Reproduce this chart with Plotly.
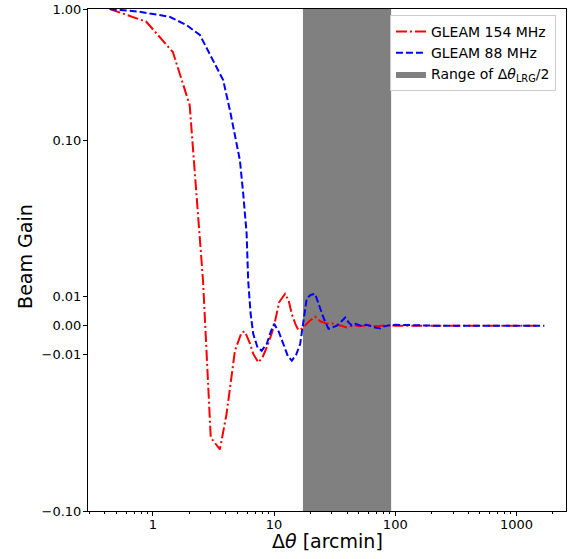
import math
import plotly.graph_objects as go

# ---- data ----
red_x = [0.44, 0.88, 1.46, 2.01, 2.59, 3.0, 3.57, 4.05, 4.75, 5.39, 5.74, 6.3, 6.73, 7.4,
         8.0, 8.69, 9.4, 10.0, 11.0, 12.3, 13.2, 14.0, 15.0, 15.85, 17.0, 19.5, 21.8, 24.0,
         27.2, 30.0, 34.0, 39.9, 45.0, 50.0, 60.0, 70.0, 85.0, 100.0, 200.0, 500.0, 1000.0, 1550.0]
red_y = [1.0, 0.80, 0.47, 0.185, 0.0154, -0.0384, -0.0424, -0.0303, -0.0086, -0.0023, -0.0020,
         -0.0060, -0.0097, -0.0126, -0.0110, -0.0075, -0.0035, 0.0, 0.0080, 0.0109, 0.0085,
         0.0040, 0.0005, -0.0015, -0.0010, 0.0015, 0.0031, 0.0015, 0.0007, 0.0008, 0.0002,
         -0.0006, 0.0002, -0.0002, 0.0001, -0.0002, 0.0001, 0.0, 0.0, 0.0, 0.0, 0.0]

blue_x = [0.44, 0.776, 1.37, 1.89, 2.44, 3.14, 3.80, 4.32, 4.75, 5.22, 5.56, 5.93, 6.11, 6.4,
          6.73, 7.3, 7.89, 8.68, 9.4, 10.0, 10.9, 11.9, 13.0, 14.0, 15.2, 16.4, 16.9, 17.7,
          18.6, 20.0, 21.8, 23.5, 25.5, 28.1, 30.5, 33.0, 36.0, 38.6, 41.0, 43.9, 47.0, 52.0,
          58.0, 66.0, 75.3, 80.0, 86.7, 100.0, 200.0, 500.0, 1000.0, 1700.0]
blue_y = [1.0, 0.953, 0.873, 0.755, 0.634, 0.408, 0.287, 0.169, 0.110, 0.0703, 0.0452, 0.0315,
          0.0154, 0.004, -0.0029, -0.0075, -0.0086, -0.0063, -0.0020, 0.0006, -0.0020, -0.0063,
          -0.0105, -0.0120, -0.0100, -0.0063, -0.0029, 0.0030, 0.0094, 0.0105, 0.0109, 0.0070,
          0.0028, -0.0011, -0.0005, 0.0, 0.0015, 0.0028, 0.0012, 0.0, 0.0006, 0.0, 0.0003,
          -0.0005, -0.0010, -0.0003, 0.0, 0.0003, 0.0, 0.0, 0.0, 0.0]

shade_range = [17.3, 92.4]          # range of Δθ_LRG/2 in arcmin
y_tick_vals = [1.0, 0.1, 0.01, 0.0, -0.01, -0.1]
y_tick_text = ["1.00", "0.10", "0.01", "0.00", "\u22120.01", "\u22120.10"]
x_tick_vals = [1, 10, 100, 1000]
x_tick_text = ["1", "10", "100", "1000"]
y_limits = [-0.1, 1.0]
x_limits = [0.291, 2565.0]

# ---- symmetric log transform (matplotlib 'symlog', linthresh=0.05, linscale=1) ----
LINTHRESH = 0.05
LINSCALE_ADJ = 1.0 / (1.0 - 1.0 / 10.0)


def symlog(v):
    a = abs(v)
    if a <= LINTHRESH:
        return v / LINTHRESH * LINSCALE_ADJ
    return math.copysign(LINSCALE_ADJ + math.log10(a / LINTHRESH), v)


ymin_t = symlog(y_limits[0])
ymax_t = symlog(y_limits[1])

FONT = "DejaVu Sans"

fig = go.Figure()

fig.add_trace(go.Scatter(
    x=[shade_range[0], shade_range[0], shade_range[1], shade_range[1], shade_range[0]],
    y=[ymin_t, ymax_t, ymax_t, ymin_t, ymin_t],
    fill="toself", fillcolor="#808080", mode="lines", line=dict(width=0, color="#808080"),
    name="Range of \u0394<i>\u03b8</i><sub>LRG</sub>/2", legendrank=3, hoverinfo="skip",
))
fig.add_trace(go.Scatter(
    x=red_x, y=[symlog(v) for v in red_y], mode="lines",
    line=dict(color="#ff0000", width=2, dash="11px,3px,2px,3px"),
    name="GLEAM 154 MHz", legendrank=1,
))
fig.add_trace(go.Scatter(
    x=blue_x, y=[symlog(v) for v in blue_y], mode="lines",
    line=dict(color="#0000ff", width=2, dash="7px,3px"),
    name="GLEAM 88 MHz", legendrank=2,
))

minor_x = [m * 10 ** k for k in range(-1, 4) for m in range(2, 10)
           if x_limits[0] <= m * 10 ** k <= x_limits[1]]

fig.update_layout(
    width=573, height=559,
    margin=dict(l=88, r=7, t=9, b=48, autoexpand=False),
    plot_bgcolor="white", paper_bgcolor="white",
    font=dict(family=FONT, size=13, color="black"),
    showlegend=True,
    legend=dict(
        x=0.979, y=0.988, xanchor="right", yanchor="top",
        bgcolor="rgba(255,255,255,0.8)", bordercolor="#cccccc", borderwidth=1,
        font=dict(family=FONT, size=14, color="black"),
        traceorder="normal",
    ),
    xaxis=dict(
        type="log", range=[math.log10(x_limits[0]), math.log10(x_limits[1])],
        tickmode="array", tickvals=x_tick_vals, ticktext=x_tick_text,
        ticks="outside", ticklen=4, tickwidth=1, tickcolor="black",
        showline=True, linecolor="black", linewidth=1, mirror=True,
        showgrid=False, zeroline=False, automargin=False, ticklabelstandoff=-3,
        minor=dict(tickmode="array", tickvals=minor_x, ticks="outside", ticklen=2,
                   tickwidth=1, tickcolor="black", showgrid=False),
        tickfont=dict(family=FONT, size=13),
    ),
    yaxis=dict(
        range=[ymin_t, ymax_t],
        tickmode="array", tickvals=[symlog(v) for v in y_tick_vals], ticktext=y_tick_text,
        ticks="outside", ticklen=4, tickwidth=1, tickcolor="black",
        showline=True, linecolor="black", linewidth=1, mirror=True,
        showgrid=False, zeroline=False, automargin=False, ticklabelstandoff=-1,
        tickfont=dict(family=FONT, size=13),
    ),
    annotations=[
        dict(text="\u0394<i>\u03b8</i> [arcmin]", xref="paper", yref="paper",
             x=0.5, y=-0.0598, xanchor="center", yanchor="middle", showarrow=False,
             font=dict(family=FONT, size=19, color="black")),
        dict(text="Beam Gain", xref="paper", yref="paper", textangle=-90,
             x=-0.132, y=0.508, xanchor="center", yanchor="middle", showarrow=False,
             font=dict(family=FONT, size=19, color="black")),
    ],
)

# the page's default 8px body margin would shift the figure; remove it
fig.write_html("out.html", config={"displayModeBar": False},
               post_script="document.body.style.margin='0';")
